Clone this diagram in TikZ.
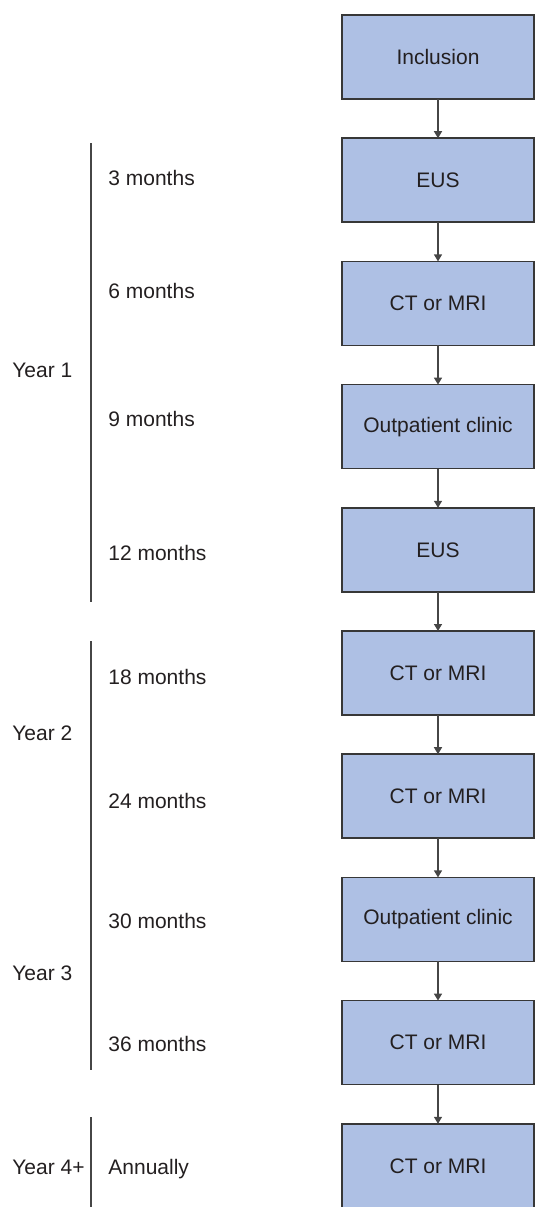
\documentclass[tikz,border=0pt]{standalone}
\usepackage{fontspec}
\setmainfont{Liberation Sans}
\usetikzlibrary{
  positioning,
  arrows.meta
}
\definecolor{boxFill}{RGB}{174,192,228}
\definecolor{boxLine}{RGB}{55,55,55}
\definecolor{textGray}{RGB}{35,31,32}
\definecolor{lineGray}{RGB}{70,70,70}

\begin{document}
\begin{tikzpicture}[
    x=0.5pt,y=-0.5pt,
    node distance=61.6pt,
    font=\fontsize{10.5}{12.6}\selectfont,
    text=textGray,
    stepNode/.style={draw=boxLine,line width=0.8pt,fill=boxFill,minimum width=96pt,minimum height=42pt,inner sep=0pt,outer sep=0pt},
    timeLabel/.style={anchor=base west,inner sep=0pt},
    flowArrow/.style={-{Triangle[length=3.5pt,width=4pt]},lineGray,line width=0.7pt},
    yearBar/.style={lineGray,line width=0.7pt},
  ]
    \useasboundingbox (0,0) rectangle (535,1207);

    % follow-up steps
    \node[stepNode] (inclusion) at (438,57) {Inclusion};
    \node[stepNode, below of=inclusion] (eusA) {EUS};
    \node[stepNode, below of=eusA] (ctA) {CT or MRI};
    \node[stepNode, below of=ctA] (clinicA) {Outpatient clinic};
    \node[stepNode, below of=clinicA] (eusB) {EUS};
    \node[stepNode, below of=eusB] (ctB) {CT or MRI};
    \node[stepNode, below of=ctB] (ctC) {CT or MRI};
    \node[stepNode, below of=ctC] (clinicB) {Outpatient clinic};
    \node[stepNode, below of=clinicB] (ctD) {CT or MRI};
    \node[stepNode, below of=ctD] (ctE) {CT or MRI};

    \foreach \a/\b in {inclusion/eusA,eusA/ctA,ctA/clinicA,clinicA/eusB,eusB/ctB,ctB/ctC,ctC/clinicB,clinicB/ctD,ctD/ctE}
      \draw[flowArrow] (\a) -- (\b);

    % time points
    \node[timeLabel] (m3) at (108,185.5) {3 months};
    \node[timeLabel] (m6) at (108,298.5) {6 months};
    \node[timeLabel] (m9) at (108,426.5) {9 months};
    \node[timeLabel] (m12) at (108,560.5) {12 months};
    \node[timeLabel] (m18) at (108,684.5) {18 months};
    \node[timeLabel] (m24) at (108,808.5) {24 months};
    \node[timeLabel] (m30) at (108,928.5) {30 months};
    \node[timeLabel] (m36) at (108,1051.5) {36 months};
    \node[timeLabel] (annually) at (108,1174.5) {Annually};

    % years
    \node[timeLabel] (yearOne) at (12,377.5) {Year 1};
    \node[timeLabel] (yearTwo) at (12,740.5) {Year 2};
    \node[timeLabel] (yearThree) at (12,980.5) {Year 3};
    \node[timeLabel] (yearFour) at (12,1174.5) {Year 4+};

    \coordinate (barOneTop) at (91,143);
    \coordinate (barOneEnd) at (91,602);
    \coordinate (barTwoTop) at (91,641);
    \coordinate (barTwoEnd) at (91,1070);
    \coordinate (barFourTop) at (91,1117);
    \coordinate (barFourEnd) at (91,1207);
    \draw[yearBar] (barOneTop) -- (barOneEnd);
    \draw[yearBar] (barTwoTop) -- (barTwoEnd);
    \draw[yearBar] (barFourTop) -- (barFourEnd);
\end{tikzpicture}
\end{document}
